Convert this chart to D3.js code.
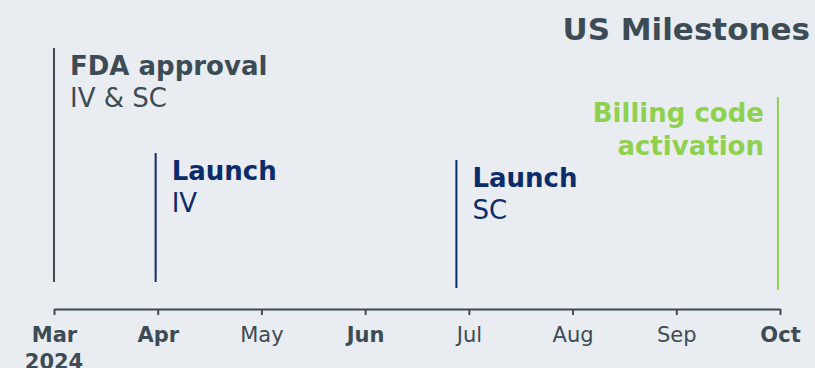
<!doctype html>
<html lang="en">
<head>
<meta charset="utf-8">
<title>US Milestones</title>
<style>
body { margin: 0; background: #e9edf1; }
svg { display: block; font-family: "DejaVu Sans", Verdana, sans-serif; }
</style>
</head>
<body>
<div id="chart"></div>
<script src="https://cdnjs.cloudflare.com/ajax/libs/d3/7.8.5/d3.min.js"></script>
<script>
// month ticks along the axis
var months = ["Mar", "Apr", "May", "Jun", "Jul", "Aug", "Sep", "Oct"];
var boldMonths = ["Mar", "Apr", "Jun", "Oct"];

// milestones: position in months after 1 Mar 2024
var eventTitles = ["FDA approval", "Launch", "Launch", "Billing code|activation"];
var eventSubs = ["IV & SC", "IV", "SC", ""];
var eventMonths = [0, 0.98, 3.88, 6.98];
var eventKinds = ["approval", "launch", "launch", "billing"];

var width = 815, height = 368;
var colors = { approval: "#3d4b55", launch: "#0b2c6b", billing: "#8fd14f" };
// line top / bottom in px, and which side the label sits
var lineTop = [48, 153, 160, 97];
var lineBottom = [282, 282, 288, 290];
var labelSide = ["right", "right", "right", "left"];

var svg = d3.select("#chart").append("svg")
    .attr("width", width)
    .attr("height", height);

var x = d3.scaleLinear()
    .domain([0, months.length - 1])
    .range([54, 780]);

var axisY = 309;

// axis
var axis = d3.axisBottom(x)
    .tickValues(d3.range(months.length))
    .tickFormat(function(i) { return months[i]; })
    .tickSize(6)
    .tickSizeOuter(0)
    .tickPadding(12);

var g = svg.append("g")
    .attr("transform", "translate(0," + axisY + ")")
    .attr("font-size", 21)
    .attr("font-family", "'DejaVu Sans', Verdana, sans-serif")
    .call(axis);

g.attr("font-size", 21).attr("font-family", "'DejaVu Sans', Verdana, sans-serif");
g.select(".domain").attr("stroke", "#3d4b55").attr("stroke-width", 2);
g.selectAll(".tick line").attr("stroke", "#3d4b55").attr("stroke-width", 2);
g.selectAll(".tick text")
    .attr("fill", "#3d4b55")
    .attr("font-size", 21)
    .attr("font-weight", function(i) { return boldMonths.indexOf(months[i]) >= 0 ? "bold" : "normal"; });

// year under the first tick
svg.append("text")
    .attr("x", x(0))
    .attr("y", 369)
    .attr("text-anchor", "middle")
    .attr("fill", "#3d4b55")
    .attr("font-size", 21)
    .attr("font-weight", "bold")
    .text("2024");

// title
svg.append("text")
    .attr("x", 810)
    .attr("y", 40)
    .attr("text-anchor", "end")
    .attr("fill", "#3d4b55")
    .attr("font-size", 31)
    .attr("font-weight", "bold")
    .text("US Milestones");

// milestones
var ev = svg.selectAll(".event")
    .data(eventMonths)
    .enter().append("g")
    .attr("class", "event");

ev.append("line")
    .attr("x1", function(d) { return x(d); })
    .attr("x2", function(d) { return x(d); })
    .attr("y1", function(d, i) { return lineTop[i]; })
    .attr("y2", function(d, i) { return lineBottom[i]; })
    .attr("stroke", function(d, i) { return colors[eventKinds[i]]; })
    .attr("stroke-width", 2);

ev.each(function(d, i) {
    var left = labelSide[i] === "left";
    var tx = left ? x(d) - 14 : x(d) + 16;
    var base = lineTop[i] + (left ? 25 : 27);
    var t = d3.select(this).append("text")
        .attr("x", tx)
        .attr("y", base)
        .attr("text-anchor", left ? "end" : "start")
        .attr("fill", colors[eventKinds[i]])
        .attr("font-size", 26);
    var lines = eventTitles[i].split("|");
    lines.forEach(function(s, k) {
        t.append("tspan")
            .attr("x", tx)
            .attr("dy", k ? 33 : 0)
            .attr("font-weight", "bold")
            .text(s);
    });
    if (eventSubs[i]) {
        t.append("tspan")
            .attr("x", tx)
            .attr("dy", 32)
            .text(eventSubs[i]);
    }
});
</script>
</body>
</html>
